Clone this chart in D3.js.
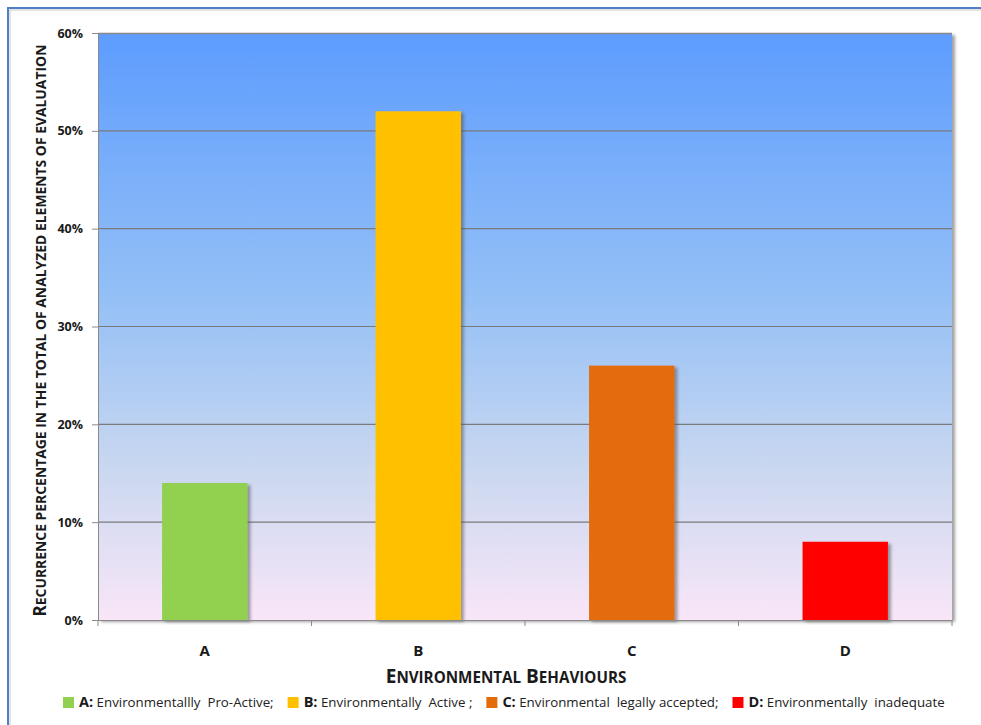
<!DOCTYPE html>
<html>
<head>
<meta charset="utf-8">
<script src="https://cdn.jsdelivr.net/npm/d3@7"></script>
<style>
  html, body { margin: 0; padding: 0; background: #fff; }
  svg { display: block; }
  text { font-family: "Open Sans", "Noto Sans", sans-serif; fill: #1a1a1a; }
</style>
</head>
<body>
<svg id="chart" width="981" height="725"></svg>
<script>
// Chart data
const categories = ["A", "B", "C", "D"];
const values = [14, 52, 26, 8];
const barColors = ["#92d050", "#ffc000", "#e36c09", "#ff0000"];
const yTicks = [0, 10, 20, 30, 40, 50, 60];
const legendLabels = ["Environmentallly  Pro-Active;", "Environmentally  Active ;", "Environmental  legally accepted;", "Environmentally  inadequate"];

const svg = d3.select("#chart");
const W = 981, H = 725;
const plot = { left: 98, top: 33, right: 952, bottom: 620 };

const defs = svg.append("defs");
const bg = defs.append("linearGradient").attr("id", "bgGrad")
  .attr("x1", 0).attr("y1", 0).attr("x2", 0).attr("y2", 1);
bg.append("stop").attr("offset", "0%").attr("stop-color", "#5d9cfe");
bg.append("stop").attr("offset", "45%").attr("stop-color", "#94c0f6");
bg.append("stop").attr("offset", "75%").attr("stop-color", "#cbd8f0");
bg.append("stop").attr("offset", "100%").attr("stop-color", "#f9e6f8");

const shadow = defs.append("filter").attr("id", "shadow")
  .attr("x", "-10%").attr("y", "-10%").attr("width", "130%").attr("height", "130%");
shadow.append("feDropShadow").attr("dx", 3).attr("dy", 2).attr("stdDeviation", 1.5)
  .attr("flood-color", "#555").attr("flood-opacity", 0.55);

// Outer frame
svg.append("rect").attr("x", 8).attr("y", 8).attr("width", W).attr("height", H)
  .attr("fill", "none").attr("stroke", "#4f7fc4").attr("stroke-width", 2);
svg.append("rect").attr("x", 10).attr("y", 10).attr("width", W).attr("height", H)
  .attr("fill", "none").attr("stroke", "#c8c8c8").attr("stroke-width", 1);

const x = d3.scaleBand().domain(categories)
  .range([plot.left, plot.right]).paddingInner(0.6).paddingOuter(0.3);
const y = d3.scaleLinear().domain([0, 60]).range([plot.bottom, plot.top]);

// Plot background
svg.append("rect").attr("x", plot.left).attr("y", plot.top)
  .attr("width", plot.right - plot.left).attr("height", plot.bottom - plot.top)
  .attr("fill", "url(#bgGrad)").attr("filter", "url(#shadow)");
svg.append("line").attr("x1", plot.left).attr("x2", plot.right)
  .attr("y1", plot.top + 0.5).attr("y2", plot.top + 0.5)
  .attr("stroke", "#8a8a8a").attr("stroke-width", 1.5);

// Gridlines
svg.append("g").selectAll("line").data(yTicks.filter(t => t > 0 && t < 60)).join("line")
  .attr("x1", plot.left).attr("x2", plot.right)
  .attr("y1", d => y(d)).attr("y2", d => y(d))
  .attr("stroke", "#7a7a7a").attr("stroke-width", 1.2);

// Bars
svg.append("g").selectAll("rect").data(values).join("rect")
  .attr("x", (d, i) => x(categories[i]))
  .attr("y", d => y(d))
  .attr("width", x.bandwidth())
  .attr("height", d => y(0) - y(d))
  .attr("fill", (d, i) => barColors[i])
  .attr("filter", "url(#shadow)");

// Y axis
const yAxis = svg.append("g").attr("transform", `translate(${plot.left},0)`)
  .call(d3.axisLeft(y).tickValues(yTicks).tickFormat(d => d + "%").tickSize(6).tickPadding(9));
yAxis.select(".domain").attr("stroke", "#8a8a8a");
yAxis.selectAll(".tick line").attr("stroke", "#8a8a8a");
yAxis.selectAll(".tick text").attr("font-size", 12.5).attr("font-weight", 700)
  .attr("fill", "#1a1a1a").style("font-family", "'Open Sans', sans-serif");

// X axis
const xAxis = svg.append("g").attr("transform", `translate(0,${plot.bottom})`)
  .call(d3.axisBottom(x).tickSize(0).tickPadding(25));
xAxis.select(".domain").attr("stroke", "#8a8a8a").attr("stroke-width", 1.2);
xAxis.selectAll(".tick text").attr("font-size", 15).attr("font-weight", 700)
  .attr("fill", "#1a1a1a").style("font-family", "'Open Sans', sans-serif");
const bounds = categories.map(c => x(c) - x.step() * x.paddingInner() / 2).concat([plot.right]);
bounds[0] = plot.left;
svg.append("g").selectAll("line").data(bounds).join("line")
  .attr("x1", d => d).attr("x2", d => d)
  .attr("y1", plot.bottom).attr("y2", plot.bottom + 6)
  .attr("stroke", "#8a8a8a");

// Small-caps title helper
function smallCaps(sel, words, big, small) {
  words.forEach((w, i) => {
    sel.append("tspan").attr("font-size", big).text((i ? " " : "") + w[0]);
    sel.append("tspan").attr("font-size", small).text(w.slice(1));
  });
}

const xTitle = svg.append("text").attr("x", 506).attr("y", 683)
  .attr("text-anchor", "middle").attr("font-weight", 700);
smallCaps(xTitle, ["ENVIRONMENTAL", "BEHAVIOURS"], 19, 15.2);

const yTitle = svg.append("text")
  .attr("transform", `translate(46,${(plot.top + plot.bottom) / 2 + 4}) rotate(-90)`)
  .attr("text-anchor", "middle").attr("font-weight", 700);
yTitle.append("tspan").attr("font-size", 17).text("R");
yTitle.append("tspan").attr("font-size", 13.9)
  .text("ECURRENCE PERCENTAGE IN THE TOTAL OF ANALYZED ELEMENTS OF EVALUATION");

// Legend
const legend = svg.append("g").attr("transform", "translate(63,707)");
let lx = 0;
categories.forEach((c, i) => {
  const g = legend.append("g").attr("transform", `translate(${lx},0)`);
  g.append("rect").attr("x", 0).attr("y", -10).attr("width", 11).attr("height", 11)
    .attr("fill", barColors[i]);
  const t = g.append("text").attr("x", 16).attr("y", 0).attr("font-size", 13)
    .style("white-space", "pre");
  t.append("tspan").attr("font-weight", 700).attr("font-size", 14.5).text(c + ":");
  t.append("tspan").attr("font-size", 13.3).attr("fill", "#222").text(" " + legendLabels[i]);
  lx += 16 + t.node().getComputedTextLength() + 14;
});
</script>
</body>
</html>
